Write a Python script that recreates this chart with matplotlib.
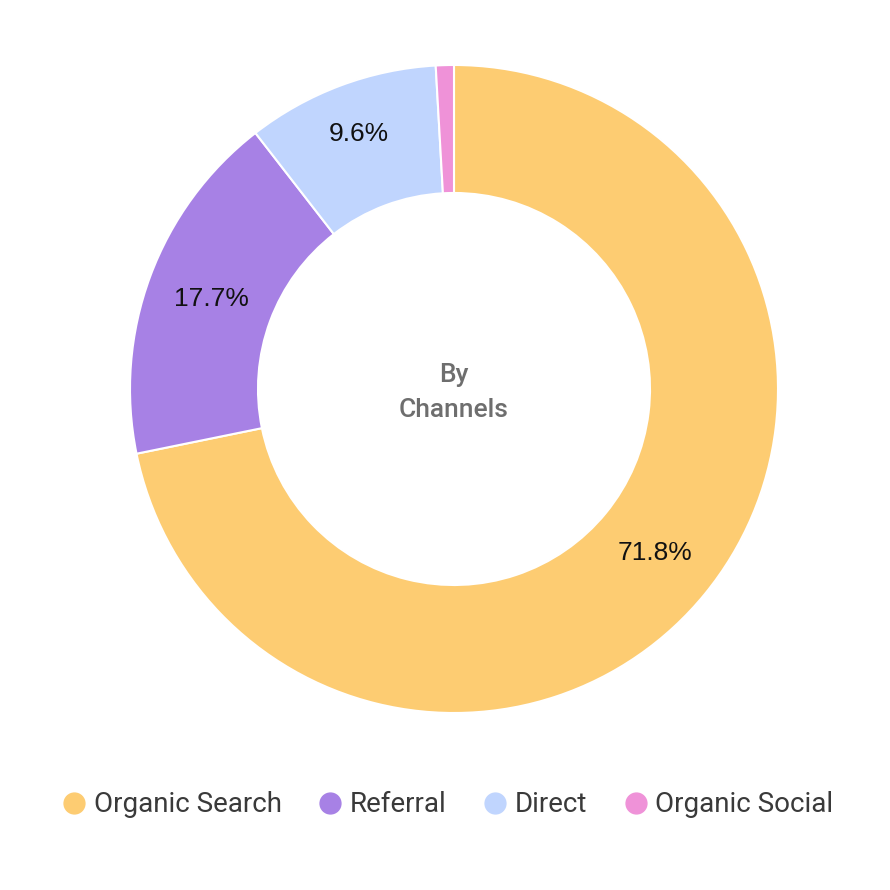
import matplotlib.pyplot as plt
from matplotlib.lines import Line2D

plt.rcParams['font.family'] = ['Roboto', 'DejaVu Sans']

channels = ['Organic Search', 'Referral', 'Direct', 'Organic Social']
shares = [71.8, 17.7, 9.6, 0.9]
colors = ['#FDCC72', '#A781E5', '#C0D5FE', '#EF92D8']

fig = plt.figure(figsize=(8.9, 8.9), dpi=100)
# axes sized so the pie radius is 324 px, centred at (454, 389)
ax = fig.add_axes([130 / 890, (890 - 713) / 890, 648 / 890, 648 / 890])


def pct_label(p):
    return f'{p:.1f}%' if p >= 5 else ''


wedges, texts, autotexts = ax.pie(
    shares, colors=colors, startangle=90, counterclock=False,
    radius=1, autopct=pct_label, pctdistance=0.8,
    wedgeprops=dict(width=0.395, edgecolor='white', linewidth=1.5),
    textprops=dict(fontsize=19, color='#111111',
                   family=['Liberation Sans', 'DejaVu Sans']))

# the small "Direct" label sits a bit further out in the original
x, y = autotexts[2].get_position()
autotexts[2].set_position((x * 1.05, y * 1.05))

ax.set_xlim(-1, 1)
ax.set_ylim(-1, 1)
ax.set_aspect('equal')
ax.axis('off')

ax.text(0, -0.01, 'By\nChannels', ha='center', va='center', fontsize=19,
        color='#6e6e6e', linespacing=1.6, fontweight='medium')

handles = [Line2D([0], [0], marker='o', linestyle='', markersize=15,
                  markerfacecolor=c, markeredgecolor=c) for c in colors]
fig.legend(handles, channels, loc='center', ncol=4,
           bbox_to_anchor=(0.502, (890 - 805) / 890), frameon=False,
           fontsize=20, handletextpad=0.2, columnspacing=1.25,
           handlelength=1.0, labelcolor='#3a3a3a')

fig.savefig('out.png', dpi=100, facecolor='white')
